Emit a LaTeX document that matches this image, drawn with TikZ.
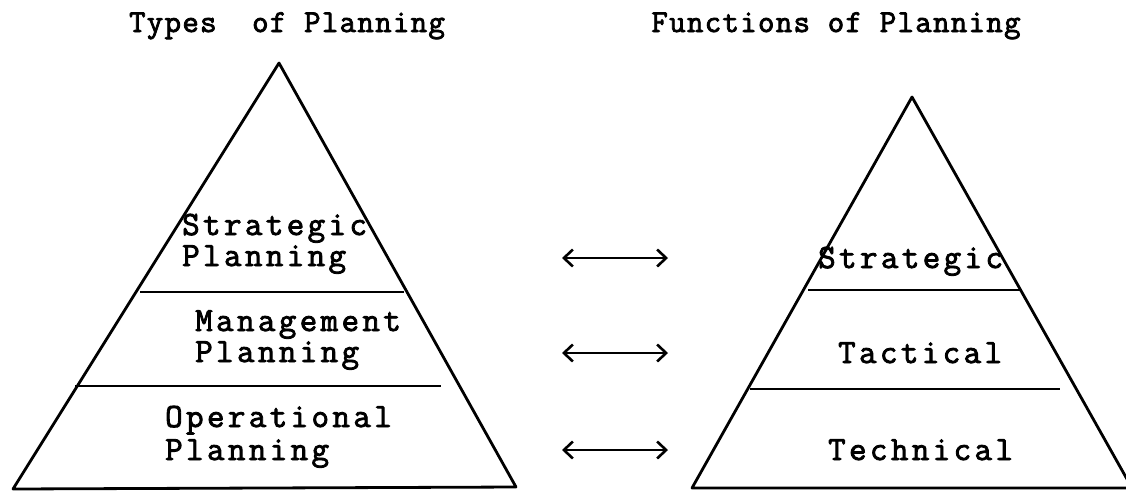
\documentclass[tikz,border=0pt]{standalone}
\usepackage{fontspec}
\newfontfamily\typer{Latin Modern Mono}[FakeBold=2.5,LetterSpace=10]
\newfontfamily\typehead{Latin Modern Mono}[FakeBold=2.5,LetterSpace=4]
\usetikzlibrary{arrows.meta}
\begin{document}
\begin{tikzpicture}[x=1pt,y=-1pt,
  edge/.style={line width=2.8pt,line join=round},
  tier/.style={line width=2.5pt},
  label/.style={font=\typer\fontsize{34}{34}\selectfont,inner sep=0pt,anchor=base west},
  heading/.style={font=\typehead\fontsize{32}{32}\selectfont,inner sep=0pt,anchor=base},
  barb/.tip={Straight Barb[length=9pt,width=17pt,line width=2.6pt]},
  link/.style={line width=2.2pt,barb-barb}
]
\useasboundingbox (0,0) rectangle (1126,491);
\clip (0,0) rectangle (1126,491);

% headings
\node[heading] (types) at (287,32) {Types\ \ of Planning};
\node[heading] (funcs) at (836,32) {Functions of Planning};

% left pyramid: types of planning
\coordinate (Ltop) at (279,63);
\coordinate (Lbl) at (13,489);
\coordinate (Lbr) at (516,487);
\draw[edge] (Ltop) -- (Lbl) -- (Lbr) -- cycle;
\coordinate (L1a) at (140,292);
\coordinate (L1b) at (404,292);
\coordinate (L2a) at (75,386);
\coordinate (L2b) at (441,386);
\draw[tier] (L1a) -- (L1b);
\draw[tier] (L2a) -- (L2b);

\node[label] (strat) at (182,235) {Strategic};
\node[label] (stratp) at (182,266) {Planning};
\node[label] (mgmt) at (195,331) {Management};
\node[label] (mgmtp) at (195,362) {Planning};
\node[label] (oper) at (165,427) {Operational};
\node[label] (operp) at (165,460) {Planning};

% right pyramid: functions of planning
\coordinate (Rtop) at (912,97);
\coordinate (Rbl) at (692,488);
\coordinate (Rbr) at (1132,488);
\draw[edge] (Rtop) -- (Rbl) -- (Rbr) -- cycle;
\coordinate (R1a) at (808,290);
\coordinate (R1b) at (1020,290);
\coordinate (R2a) at (750,389);
\coordinate (R2b) at (1060,389);
\draw[tier] (R1a) -- (R1b);
\draw[tier] (R2a) -- (R2b);

\node[label] (fstrat) at (818,268) {Strategic};
\node[label] (ftact) at (838,363) {Tactical};
\node[label] (ftech) at (828,460) {Technical};

% correspondences between the two pyramids
\coordinate (A1l) at (562,258);
\coordinate (A1r) at (668,258);
\coordinate (A2l) at (562,353);
\coordinate (A2r) at (668,353);
\coordinate (A3l) at (562,450);
\coordinate (A3r) at (668,450);
\draw[link] (A1l) -- (A1r);
\draw[link] (A2l) -- (A2r);
\draw[link] (A3l) -- (A3r);
\end{tikzpicture}
\end{document}
